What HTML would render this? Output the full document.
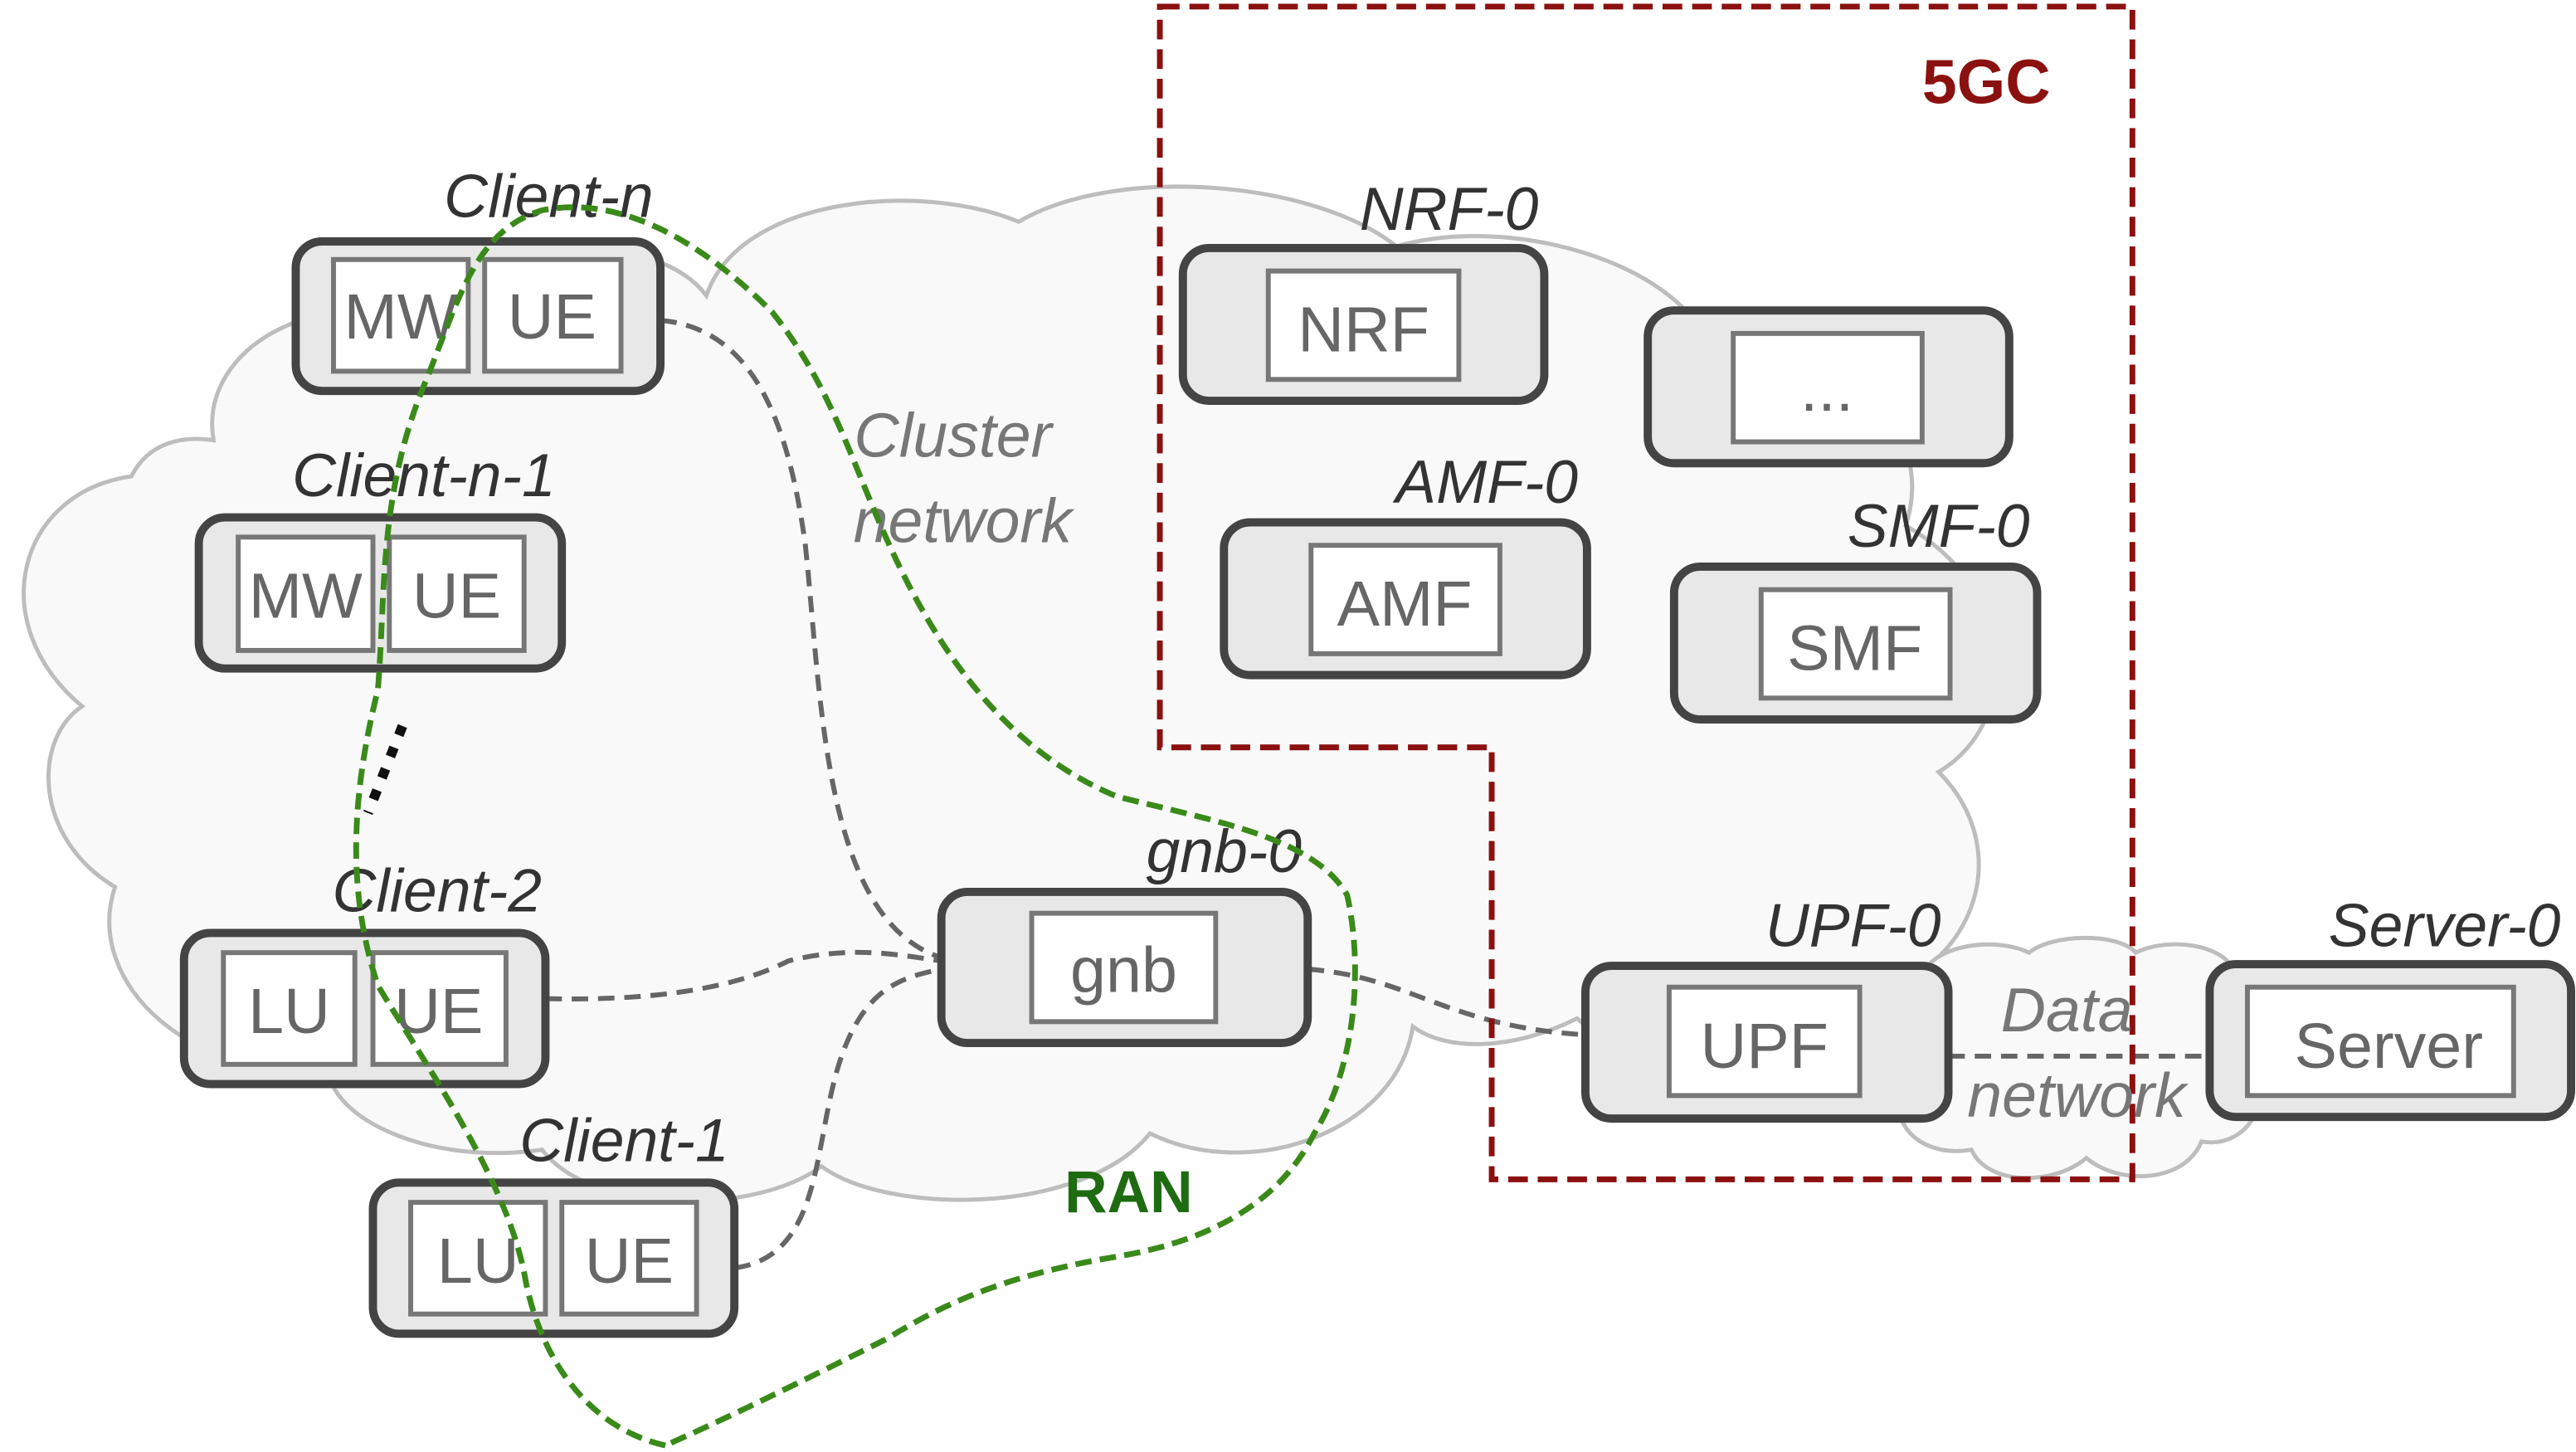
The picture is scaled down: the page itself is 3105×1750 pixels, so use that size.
<!DOCTYPE html>
<html><head><style>html,body{margin:0;padding:0;background:#fff}svg{display:block}</style></head>
<body>
<svg width="3105" height="1750" viewBox="0 0 1568 884" preserveAspectRatio="none" xmlns="http://www.w3.org/2000/svg" font-family="Liberation Sans, sans-serif">
<path d="M130,268 C120,210 200,170 260,200 C300,140 400,140 430,180 C450,120 560,110 620,135 C680,100 800,110 850,150 C920,130 1020,160 1040,210 C1120,200 1180,260 1160,320 C1230,360 1230,440 1180,470 C1230,520 1200,600 1120,610 C1100,650 1000,660 960,620 C920,640 880,640 860,625 C850,690 760,720 700,690 C660,740 540,740 500,710 C460,740 360,740 330,700 C260,710 200,680 200,650 C120,660 50,600 70,540 C20,510 20,450 50,430 C-10,380 10,300 80,290 C90,270 110,265 130,268 Z" fill="#f9f9f9" stroke="#bdbdbd" stroke-width="2.5"/>
<path d="M1170,595 C1175,575 1215,570 1235,580 C1250,568 1290,568 1300,580 C1320,570 1355,575 1360,592 C1385,600 1385,640 1370,650 C1385,665 1370,700 1340,695 C1330,720 1290,722 1270,705 C1250,722 1210,722 1200,700 C1170,705 1150,685 1158,665 C1140,650 1145,610 1170,595 Z" fill="#f9f9f9" stroke="#bdbdbd" stroke-width="2.5"/>
<g fill="none" stroke="#666" stroke-width="3" stroke-dasharray="10,6">
<path d="M402,195 C460,200 480,260 490,330 C500,420 500,560 573,583"/>
<path d="M332,608 C420,610 460,595 480,585 C520,575 550,582 573,585"/>
<path d="M447,772 C500,765 495,700 510,650 C525,600 550,595 573,590"/>
<path d="M796,590 C860,595 880,625 965,630"/>
<path d="M1186,643 L1345,643"/>
</g>
<path d="M706,4 L1298,4 L1298,718 L908,718 L908,455 L706,455 Z" fill="none" stroke="#8b1010" stroke-width="3.5" stroke-dasharray="12,6"/>
<text x="1170" y="63" font-size="38" font-weight="bold" fill="#8b1010">5GC</text>
<g stroke="#444" stroke-width="5" fill="#e8e8e8">
<rect x="180" y="147" width="222" height="91" rx="16"/>
<rect x="121" y="315" width="221" height="92" rx="16"/>
<rect x="112" y="568" width="220" height="92" rx="16"/>
<rect x="227" y="720" width="220" height="92" rx="16"/>
<rect x="573" y="543" width="223" height="92" rx="16"/>
<rect x="720" y="151" width="220" height="93" rx="16"/>
<rect x="1003" y="189" width="220" height="93" rx="16"/>
<rect x="745" y="318" width="221" height="93" rx="16"/>
<rect x="1019" y="345" width="221" height="93" rx="16"/>
<rect x="965" y="588" width="221" height="93" rx="16"/>
<rect x="1345" y="587" width="220" height="93" rx="16"/>
</g>
<g stroke="#777" stroke-width="3" fill="#fff">
<rect x="203" y="158" width="82" height="68"/><rect x="295" y="158" width="83" height="68"/>
<rect x="145" y="327" width="82" height="69"/><rect x="237" y="327" width="82" height="69"/>
<rect x="136" y="580" width="80" height="68"/><rect x="227" y="580" width="81" height="68"/>
<rect x="250" y="732" width="82" height="68"/><rect x="342" y="732" width="82" height="68"/>
<rect x="628" y="556" width="112" height="66"/>
<rect x="772" y="165" width="116" height="66"/>
<rect x="1055" y="203" width="115" height="66"/>
<rect x="798" y="332" width="115" height="66"/>
<rect x="1072" y="359" width="115" height="66"/>
<rect x="1016" y="601" width="116" height="66"/>
<rect x="1368" y="601" width="162" height="66"/>
</g>
<g font-size="39" fill="#666" text-anchor="middle">
<text x="244" y="206">MW</text><text x="336" y="206">UE</text>
<text x="186" y="376">MW</text><text x="278" y="376">UE</text>
<text x="176" y="629">LU</text><text x="267" y="629">UE</text>
<text x="291" y="781">LU</text><text x="383" y="781">UE</text>
<text x="684" y="604">gnb</text>
<text x="830" y="214">NRF</text>
<text x="1112" y="250">...</text>
<text x="855" y="381">AMF</text>
<text x="1129" y="408">SMF</text>
<text x="1074" y="650">UPF</text>
<text x="1454" y="650">Server</text>
</g>
<g font-size="37" font-style="italic" fill="#333" text-anchor="middle">
<text x="334" y="132">Client-n</text>
<text x="258" y="302">Client-n-1</text>
<text x="266" y="555">Client-2</text>
<text x="380" y="707">Client-1</text>
<text x="745" y="531">gnb-0</text>
<text x="882" y="140">NRF-0</text>
<text x="905" y="306">AMF-0</text>
<text x="1180" y="333">SMF-0</text>
<text x="1128" y="576">UPF-0</text>
<text x="1488" y="576">Server-0</text>
</g>
<g font-size="38" font-style="italic" fill="#777" text-anchor="middle">
<text x="580" y="278">Cluster</text><text x="586" y="330">network</text>
<text x="1258" y="628">Data</text><text x="1264" y="680">network</text>
</g>
<path d="M405,880 C360,870 330,830 320,780 C310,720 260,650 230,600 C210,540 215,480 230,420 C235,360 230,300 260,230 C280,180 290,140 330,128 C380,118 430,150 470,190 C510,240 520,290 550,350 C580,410 620,460 680,485 C740,500 800,510 820,545 C830,590 825,650 800,690 C780,730 740,755 680,765 C620,775 580,790 540,815 C500,835 450,860 405,880 Z" fill="none" stroke="#3a8a1a" stroke-width="3.5" stroke-dasharray="10,5"/>
<text x="648" y="738" font-size="36" font-weight="bold" fill="#1f6b12">RAN</text>
<path d="M245,442 L224,495" stroke="#111" stroke-width="6" stroke-dasharray="6,8"/>
</svg>
</body></html>
